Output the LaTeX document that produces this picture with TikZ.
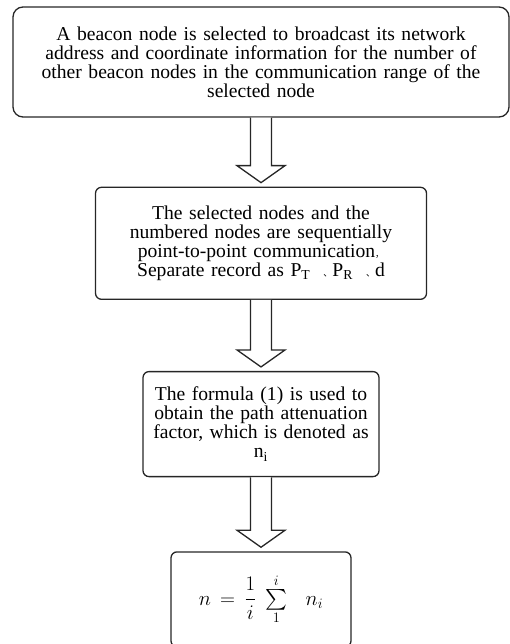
\documentclass[tikz,border=0pt]{standalone}
\usepackage{amsmath}
\usepackage{fontspec}
\setmainfont{Liberation Serif}
\newfontfamily\cjkfont{Noto Sans CJK SC}
\usetikzlibrary{positioning,calc}

% enumeration comma and full-width comma
\newcommand{\dunhao}{{\cjkfont\small 、}}
\newcommand{\fwcomma}{{\cjkfont\small ，}}

% outlined block arrow from the bottom of one box to the top of the next
\newcommand{\flowarrow}[2]{%
  \draw[flow] let \p1 = (#1.south), \p2 = (#2.north) in
    (\x1-10.5pt,\y1) -- (\x1-10.5pt,\y2+21pt) -- (\x1-24pt,\y2+21pt)
    -- (\x1,\y2+4pt) -- (\x1+24pt,\y2+21pt) -- (\x1+10.5pt,\y2+21pt)
    -- (\x1+10.5pt,\y1);}

\begin{document}
\begin{tikzpicture}[
  x = 1pt, y = 1pt,
  node distance = 69pt,
  stepbox/.style = {rectangle, draw=black!85, line width=1.3pt,
                    rounded corners=6pt, align=center, inner sep=0pt,
                    font=\fontsize{19.6}{19}\selectfont},
  flow/.style = {draw=black!85, line width=1.3pt, line join=miter, fill=white}
]
\useasboundingbox (0,0) rectangle (510,-644);

% ───────── boxes ─────────
\node[stepbox, rounded corners=10pt, minimum width=496pt, minimum height=110pt,
      text width=486pt] (select) at (261,-62)
  {A beacon node is selected to broadcast its network\\
   address and coordinate information for the number of\\
   other beacon nodes in the communication range of the\\
   selected node};

\node[stepbox, minimum width=331pt, minimum height=112pt, text width=324pt,
      below=of select] (record)
  {The selected nodes and the\\
   numbered nodes are sequentially\\
   point-to-point communication\fwcomma\\
   Separate record as P\textsubscript{T} \ \dunhao P\textsubscript{R} \ \dunhao d};

\node[stepbox, minimum width=236pt, minimum height=105pt, text width=228pt,
      below=71pt of record] (factor)
  {The formula (1) is used to\\
   obtain the path attenuation\\
   factor, which is denoted as\\
   n\textsubscript{i}};

\node[stepbox, minimum width=180pt, minimum height=95pt, text width=172pt,
      font=\fontsize{20}{24}\selectfont, below=74pt of factor] (mean)
  {$\displaystyle n = \frac{1}{i}\;{\textstyle\sum\limits_{1}^{i}}\;\; n_{i}$};

% ───────── arrows ──────────
\flowarrow{select}{record}
\flowarrow{record}{factor}
\flowarrow{factor}{mean}
\end{tikzpicture}
\end{document}
